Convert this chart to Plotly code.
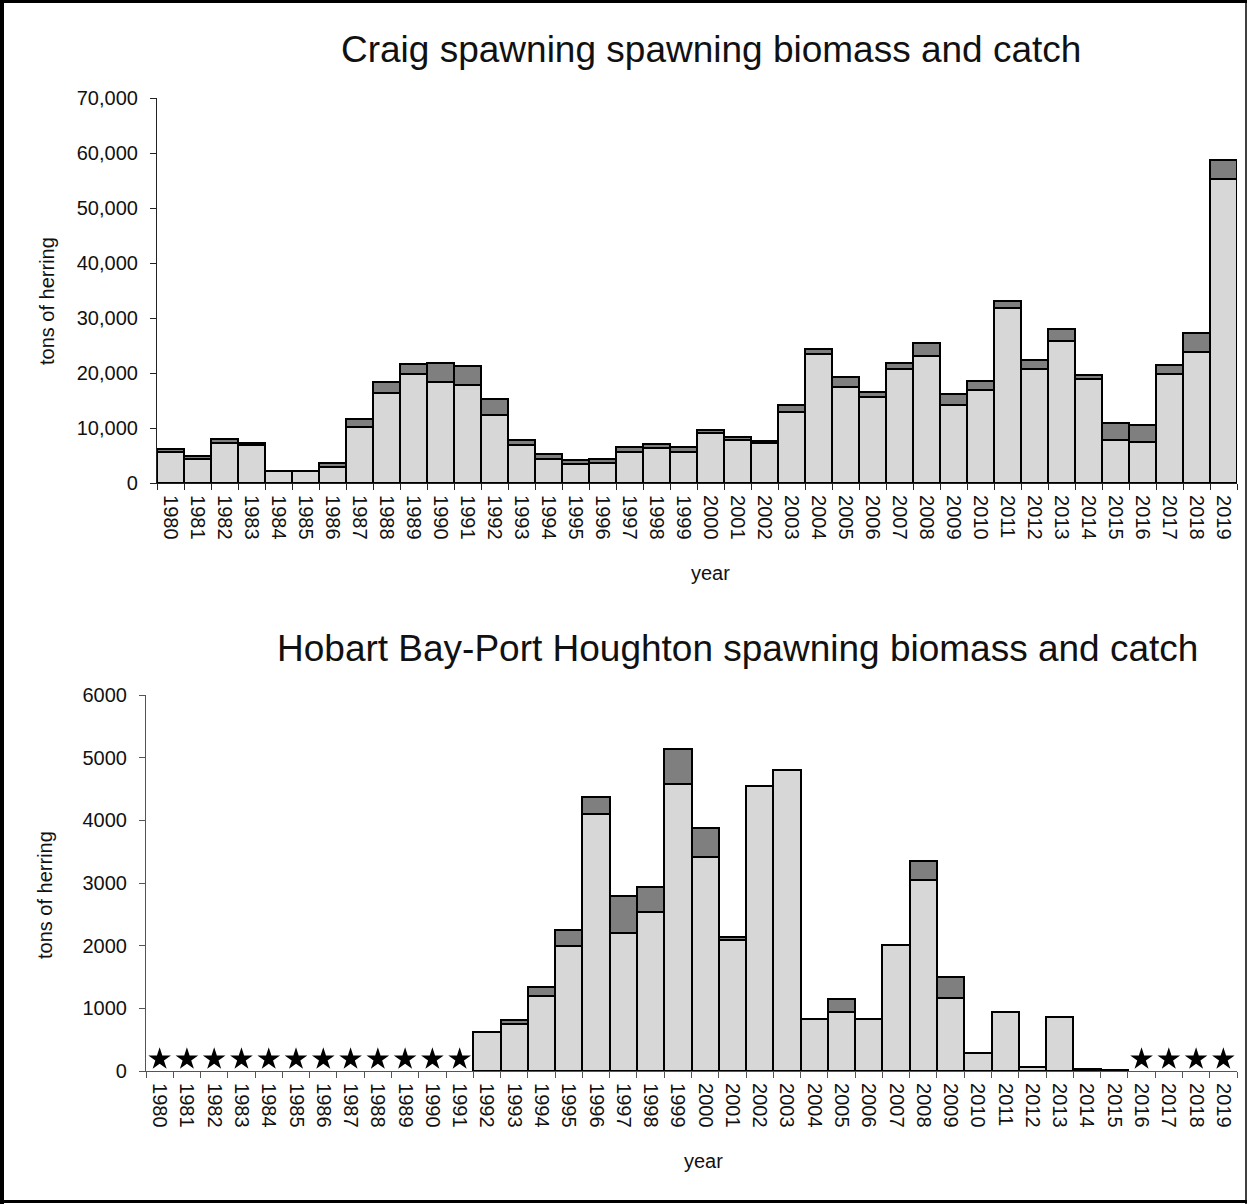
import plotly.graph_objects as go

# ---- data -------------------------------------------------------------
years = [str(y) for y in range(1980, 2020)]

# Craig: spawning biomass (light) and catch (dark), tons
craig_biomass = [5600, 4300, 7300, 6900, 2200, 2200, 3000, 10200, 16300, 19800,
                 18400, 17900, 12300, 7000, 4400, 3400, 3600, 5600, 6400, 5700,
                 9100, 7800, 7300, 13000, 23500, 17500, 15600, 20700, 23100, 14200,
                 17000, 31900, 20700, 25800, 18900, 7800, 7500, 19900, 23900, 55200]
craig_catch = [500, 700, 700, 400, 0, 0, 600, 1500, 2100, 1800,
               3400, 3400, 2900, 800, 800, 700, 700, 1000, 700, 900,
               500, 600, 400, 1200, 800, 1800, 1000, 1200, 2400, 1900,
               1500, 1200, 1700, 2200, 700, 3200, 3000, 1600, 3400, 3500]

# Hobart Bay-Port Houghton: None = year without a survey (shown with a star)
hobart_biomass = [None] * 12 + [620, 756, 1190, 1990, 4095, 2195, 2540, 4585,
                                3420, 2085, 4545, 4810, 825, 940, 825, 2010,
                                3055, 1165, 295, 945, 65, 865, 35, 10] + [None] * 4
hobart_catch = [None] * 12 + [0, 50, 150, 265, 270, 595, 395, 550,
                              450, 50, 0, 0, 0, 215, 0, 0,
                              300, 335, 0, 0, 0, 0, 0, 0] + [None] * 4
no_survey_years = [y for y, v in zip(years, hobart_biomass) if v is None]

# ---- styling ----------------------------------------------------------
W, H = 1247, 1204
FONT = "Liberation Sans, Arial, sans-serif"
TXT = "#111111"
LIGHT = "#d7d7d7"
DARK = "#7f7f7f"
STAR_LEVEL = 190


def px_x(p):
    return p / W


def px_y(p):
    return 1 - p / H


fig = go.Figure()

bar_line = dict(color="black", width=2.2)
fig.add_trace(go.Bar(x=years, y=craig_biomass, marker=dict(color=LIGHT, line=bar_line),
                     xaxis="x", yaxis="y", showlegend=False))
fig.add_trace(go.Bar(x=years, y=craig_catch, marker=dict(color=DARK, line=bar_line),
                     xaxis="x", yaxis="y", showlegend=False))
fig.add_trace(go.Bar(x=years, y=hobart_biomass, marker=dict(color=LIGHT, line=bar_line),
                     xaxis="x2", yaxis="y2", showlegend=False))
fig.add_trace(go.Bar(x=years, y=hobart_catch, marker=dict(color=DARK, line=bar_line),
                     xaxis="x2", yaxis="y2", showlegend=False))
fig.add_trace(go.Scatter(x=no_survey_years, y=[STAR_LEVEL] * len(no_survey_years),
                         mode="markers", xaxis="x2", yaxis="y2", showlegend=False,
                         marker=dict(symbol="star", size=17, color="black",
                                     line=dict(color="black", width=0))))

tickfont = dict(family=FONT, size=20, color=TXT)


def xaxis_cfg(x0, x1, anchor, linecolor):
    return dict(domain=[px_x(x0), px_x(x1)], anchor=anchor, type="category",
                categoryorder="array", categoryarray=years,
                range=[-0.5, len(years) - 0.5],
                showline=True, linecolor=linecolor, linewidth=1.2,
                ticks="outside", tickson="boundaries", ticklen=6, tickwidth=1.2,
                tickcolor=linecolor, tickangle=90, tickfont=tickfont,
                ticklabelstandoff=7,
                showgrid=False, zeroline=False, automargin=False, fixedrange=True)


def yaxis_cfg(y_top, y_bot, anchor, rng, dtick, fmt, linecolor):
    return dict(domain=[px_y(y_bot), px_y(y_top)], anchor=anchor, range=rng,
                dtick=dtick, tickformat=fmt, showline=True, linecolor=linecolor,
                linewidth=1.2, ticks="outside", ticklen=6, tickwidth=1.2,
                tickcolor=linecolor, tickfont=tickfont, ticklabelstandoff=8,
                showgrid=False, zeroline=False, automargin=False, fixedrange=True)


annotations = [
    dict(text="Craig spawning spawning biomass and catch", x=px_x(711), y=px_y(50)),
    dict(text="Hobart Bay-Port Houghton spawning biomass and catch",
         x=px_x(737), y=px_y(648)),
]
for a in annotations:
    a.update(xref="paper", yref="paper", xanchor="center", yanchor="middle",
             showarrow=False, font=dict(family=FONT, size=37, color=TXT))

for txt, x, y, ang in [("tons of herring", 47, 301, -90), ("year", 710, 573, 0),
                       ("tons of herring", 45, 895, -90), ("year", 703, 1161, 0)]:
    annotations.append(dict(text=txt, x=px_x(x), y=px_y(y), xref="paper", yref="paper",
                            xanchor="center", yanchor="middle", showarrow=False,
                            textangle=ang, font=dict(family=FONT, size=20, color=TXT)))

# frame around the whole figure
frame = [
    dict(type="line", x0=px_x(2), x1=px_x(2), y0=0, y1=1, line=dict(color="black", width=4)),
    dict(type="line", x0=0, x1=1, y0=px_y(1.5), y1=px_y(1.5), line=dict(color="black", width=3)),
    dict(type="line", x0=0, x1=1, y0=px_y(1201.5), y1=px_y(1201.5), line=dict(color="black", width=3)),
    dict(type="line", x0=px_x(1246), x1=px_x(1246), y0=0, y1=1, line=dict(color="black", width=1.5)),
]
for s in frame:
    s.update(xref="paper", yref="paper")

fig.update_layout(
    width=W, height=H, margin=dict(l=0, r=0, t=0, b=0),
    paper_bgcolor="white", plot_bgcolor="white",
    barmode="stack", bargap=0,
    font=dict(family=FONT, color=TXT),
    xaxis=xaxis_cfg(157, 1237, "y", "#222222"),
    yaxis=yaxis_cfg(98, 483, "x", [0, 70000], 10000, ",d", "#222222"),
    xaxis2=xaxis_cfg(146, 1237, "y2", "#555555"),
    yaxis2=yaxis_cfg(695, 1071, "x2", [0, 6000], 1000, "d", "#555555"),
    annotations=annotations, shapes=frame,
)

fig.write_html("out.html", config={"displayModeBar": False})
